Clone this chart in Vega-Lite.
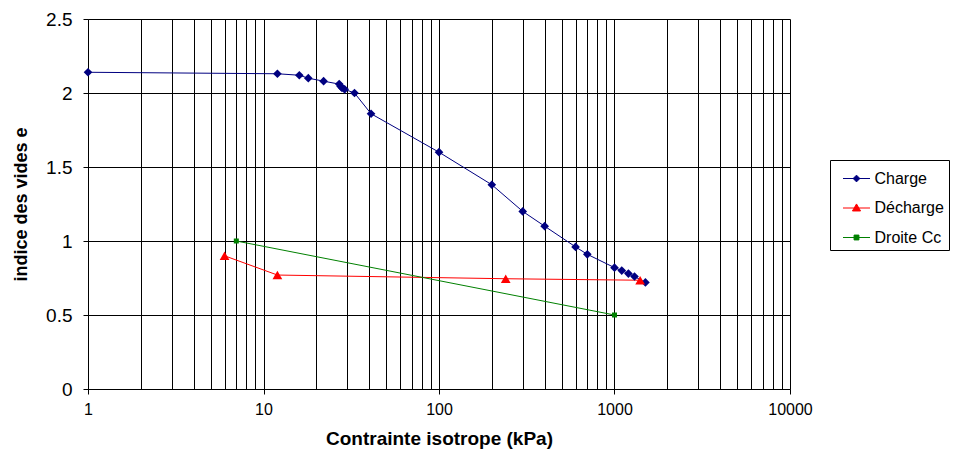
{
  "$schema": "https://vega.github.io/schema/vega-lite/v6.json",
  "width": 702,
  "height": 370,
  "autosize": "none",
  "padding": {"left": 88, "top": 19, "right": 173, "bottom": 65},
  "background": "white",
  "config": {"view": {"stroke": null}, "font": "Liberation Sans"},
  "data": {
    "values": [
      {"serie": "Charge", "contrainte": 1, "e": 2.14},
      {"serie": "Charge", "contrainte": 12, "e": 2.13},
      {"serie": "Charge", "contrainte": 16, "e": 2.12},
      {"serie": "Charge", "contrainte": 18, "e": 2.1},
      {"serie": "Charge", "contrainte": 22, "e": 2.08},
      {"serie": "Charge", "contrainte": 27, "e": 2.06},
      {"serie": "Charge", "contrainte": 27.5, "e": 2.045},
      {"serie": "Charge", "contrainte": 28, "e": 2.035},
      {"serie": "Charge", "contrainte": 29, "e": 2.025},
      {"serie": "Charge", "contrainte": 33, "e": 2.0},
      {"serie": "Charge", "contrainte": 41, "e": 1.86},
      {"serie": "Charge", "contrainte": 100, "e": 1.6},
      {"serie": "Charge", "contrainte": 200, "e": 1.38},
      {"serie": "Charge", "contrainte": 300, "e": 1.2},
      {"serie": "Charge", "contrainte": 400, "e": 1.1},
      {"serie": "Charge", "contrainte": 600, "e": 0.96},
      {"serie": "Charge", "contrainte": 700, "e": 0.91},
      {"serie": "Charge", "contrainte": 1000, "e": 0.82},
      {"serie": "Charge", "contrainte": 1100, "e": 0.8},
      {"serie": "Charge", "contrainte": 1200, "e": 0.78},
      {"serie": "Charge", "contrainte": 1300, "e": 0.76},
      {"serie": "Charge", "contrainte": 1500, "e": 0.72},
      {"serie": "Décharge", "contrainte": 6, "e": 0.9},
      {"serie": "Décharge", "contrainte": 12, "e": 0.77},
      {"serie": "Décharge", "contrainte": 240, "e": 0.745},
      {"serie": "Décharge", "contrainte": 1400, "e": 0.735},
      {"serie": "Droite Cc", "contrainte": 7, "e": 1.0},
      {"serie": "Droite Cc", "contrainte": 1000, "e": 0.5}
    ]
  },
  "encoding": {
    "x": {
      "field": "contrainte",
      "type": "quantitative",
      "scale": {"type": "log", "domain": [1, 10000], "nice": false},
      "axis": {
        "values": [1, 2, 3, 4, 5, 6, 7, 8, 9, 10, 20, 30, 40, 50, 60, 70, 80, 90, 100, 200, 300, 400, 500, 600, 700, 800, 900, 1000, 2000, 3000, 4000, 5000, 6000, 7000, 8000, 9000, 10000],
        "format": "d",
        "labelExpr": "indexof([1, 10, 100, 1000, 10000], datum.value) >= 0 ? datum.label : ''",
        "tickOpacity": {"condition": {"test": "indexof([1, 10, 100, 1000, 10000], datum.value) >= 0", "value": 1}, "value": 0},
        "grid": true,
        "gridColor": "#000000",
        "gridOpacity": 1,
        "gridWidth": 1,
        "domainColor": "#000000",
        "tickColor": "#000000",
        "tickSize": 5,
        "labelColor": "#000000",
        "labelFontSize": 16,
        "labelPadding": 7,
        "labelFlush": false,
        "labelOverlap": false,
        "title": "Contrainte isotrope (kPa)",
        "titleColor": "#000000",
        "titleFontSize": 19,
        "titleFontWeight": "bold",
        "titlePadding": 12
      }
    },
    "y": {
      "field": "e",
      "type": "quantitative",
      "scale": {"domain": [0, 2.5], "nice": false, "zero": true},
      "axis": {
        "values": [0, 0.5, 1, 1.5, 2, 2.5],
        "format": "~g",
        "grid": true,
        "gridColor": "#000000",
        "gridOpacity": 1,
        "gridWidth": 1,
        "domainColor": "#000000",
        "tickColor": "#000000",
        "tickSize": 5,
        "labelColor": "#000000",
        "labelFontSize": 19,
        "labelPadding": 11,
        "title": "indice des vides e",
        "titleColor": "#000000",
        "titleFontSize": 18,
        "titleFontWeight": "bold",
        "titlePadding": 15
      }
    },
    "color": {
      "field": "serie",
      "type": "nominal",
      "scale": {"domain": ["Charge", "Décharge", "Droite Cc"], "range": ["#000080", "#ff0000", "#008000"]},
      "legend": {
        "title": null,
        "orient": "none",
        "legendX": 742,
        "legendY": 141,
        "padding": 4.5,
        "strokeColor": "#000000",
        "fillColor": "#ffffff",
        "cornerRadius": 0,
        "labelFontSize": 16,
        "labelColor": "#000000",
        "labelOffset": 4,
        "rowPadding": 7.5,
        "symbolOffset": 8,
        "symbolSize": 729,
        "symbolStrokeWidth": 1,
        "encode": {
          "symbols": {
            "update": {
              "shape": {"signal": "datum.value == 'Charge' ? 'M-1,0H1M0,-0.25L0.25,0L0,0.25L-0.25,0Z' : datum.value == 'Décharge' ? 'M-1,0H1M0,-0.3L0.3,0.22L-0.3,0.22Z' : 'M-1,0H1M-0.18,-0.18H0.18V0.18H-0.18Z'"},
              "size": {"value": 729},
              "fill": {"signal": "scale('color', datum.value)"},
              "stroke": {"signal": "scale('color', datum.value)"},
              "strokeWidth": {"value": 1},
              "opacity": {"value": 1}
            }
          }
        }
      }
    }
  },
  "layer": [
    {
      "mark": {"type": "line", "strokeWidth": 1}
    },
    {
      "transform": [{"filter": "datum.serie == 'Charge'"}],
      "mark": {"type": "point", "filled": true, "opacity": 1, "shape": "diamond", "size": 75}
    },
    {
      "transform": [{"filter": "datum.serie == 'Décharge'"}],
      "mark": {"type": "point", "filled": true, "opacity": 1, "shape": "triangle-up", "size": 95}
    },
    {
      "transform": [{"filter": "datum.serie == 'Droite Cc'"}],
      "mark": {"type": "point", "filled": true, "opacity": 1, "shape": "square", "size": 25}
    }
  ]
}
